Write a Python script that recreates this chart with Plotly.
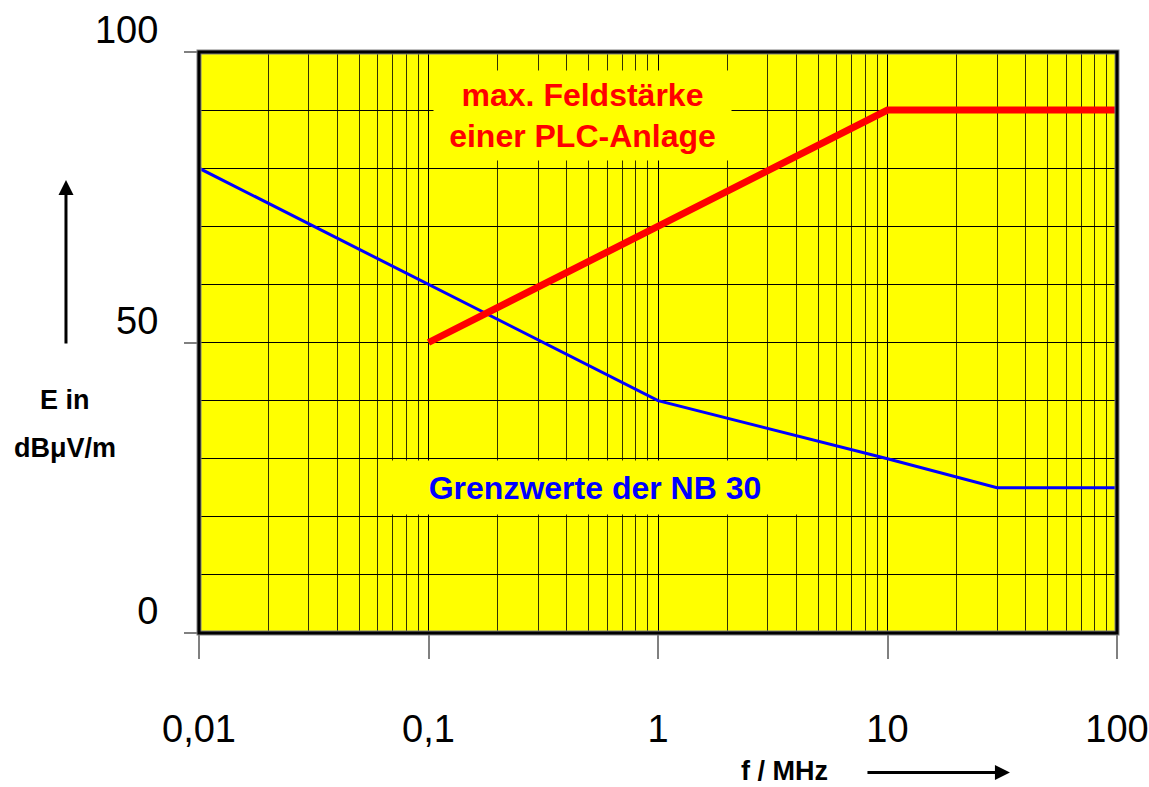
import plotly.graph_objects as go

# Data
freq_plc = [0.1, 10, 100]
e_plc = [50, 90, 90]
freq_nb30 = [0.01, 1, 10, 30, 100]
e_nb30 = [80, 40, 30, 25, 25]

x_tickvals = [0.01, 0.1, 1, 10, 100]
x_ticktext = ["0,01", "0,1", "1", "10", "100"]
y_tickvals = [0, 50, 100]
y_ticktext = ["0", "50", "100"]

FONT = "Arial, Liberation Sans, sans-serif"

fig = go.Figure()
fig.add_trace(go.Scatter(x=freq_nb30, y=e_nb30, mode="lines",
                         line=dict(color="#0000FF", width=3), cliponaxis=False))
fig.add_trace(go.Scatter(x=freq_plc, y=e_plc, mode="lines",
                         line=dict(color="#FF0000", width=7), cliponaxis=False))

fig.update_layout(
    width=1149, height=787,
    margin=dict(l=199, r=32, t=52, b=154),
    paper_bgcolor="white", plot_bgcolor="#FFFF00",
    showlegend=False,
    font=dict(family=FONT, color="black"),
)

fig.update_xaxes(
    type="log", range=[-2, 2], automargin=False,
    tickvals=x_tickvals, ticktext=x_ticktext,
    ticks="outside", ticklen=25, tickcolor="#808080", tickwidth=1.5,
    tickfont=dict(size=38, family=FONT, color="black"),
    ticklabelstandoff=37,
    showgrid=True, gridcolor="black", gridwidth=1,
    minor=dict(dtick="D1", showgrid=True, gridcolor="rgba(0,0,0,0.8)", gridwidth=1.3, ticks=""),
    showline=False, zeroline=False,
)
fig.update_yaxes(
    range=[0, 100], automargin=False,
    tickvals=y_tickvals, ticktext=y_ticktext,
    ticks="outside", ticklen=14, tickcolor="#808080", tickwidth=1.5,
    tickfont=dict(size=38, family=FONT, color="black"),
    ticklabelshift=-22, ticklabelstandoff=18,
    showgrid=True, gridcolor="black", gridwidth=1,
    minor=dict(dtick=10, showgrid=True, gridcolor="black", gridwidth=1, ticks=""),
    showline=False, zeroline=False,
)

# frame
fig.add_shape(type="rect", xref="paper", yref="paper", x0=0, y0=0, x1=1, y1=1,
              line=dict(color="#808080", width=5), layer="above")
fig.add_shape(type="rect", xref="paper", yref="paper", x0=0, y0=0, x1=1, y1=1,
              line=dict(color="black", width=3), layer="above")

# labels inside plot
fig.add_annotation(x=-0.331, y=89.0, xref="x", yref="y",
                   xanchor="center", yanchor="middle",
                   text="<b>max. Feldstärke<br>einer PLC-Anlage</b>",
                   showarrow=False, bgcolor="#FFFF00", width=295, height=87,
                   font=dict(size=32, color="#FF0000", family=FONT), align="center")
fig.add_annotation(x=-0.2745, y=25.0, xref="x", yref="y",
                   xanchor="center", yanchor="middle",
                   text="<b>Grenzwerte der NB 30</b>",
                   showarrow=False, bgcolor="#FFFF00", width=404, height=51,
                   font=dict(size=32, color="#0000FF", family=FONT), align="center")

# axis titles
fig.add_annotation(x=-0.146, y=0.401, xref="paper", yref="paper",
                   xanchor="center", yanchor="middle",
                   text="<b>E in</b>", showarrow=False,
                   font=dict(size=27, color="black", family=FONT))
fig.add_annotation(x=-0.146, y=0.3184, xref="paper", yref="paper",
                   xanchor="center", yanchor="middle",
                   text="<b>dBμV/m</b>", showarrow=False,
                   font=dict(size=27, color="black", family=FONT))
fig.add_annotation(x=0.6383, y=-0.238, xref="paper", yref="paper",
                   xanchor="center", yanchor="middle",
                   text="<b>f / MHz</b>", showarrow=False,
                   font=dict(size=27, color="black", family=FONT))

# arrows
fig.add_annotation(x=-0.1449, y=0.7797, xref="paper", yref="paper",
                   ax=0, ay=165, axref="pixel", ayref="pixel",
                   text="", showarrow=True, arrowhead=2, arrowsize=1,
                   arrowwidth=3, arrowcolor="black")
fig.add_annotation(x=0.8834, y=-0.2400, xref="paper", yref="paper",
                   ax=-144, ay=0, axref="pixel", ayref="pixel",
                   text="", showarrow=True, arrowhead=2, arrowsize=1,
                   arrowwidth=3, arrowcolor="black")

fig.write_html("out.html")
